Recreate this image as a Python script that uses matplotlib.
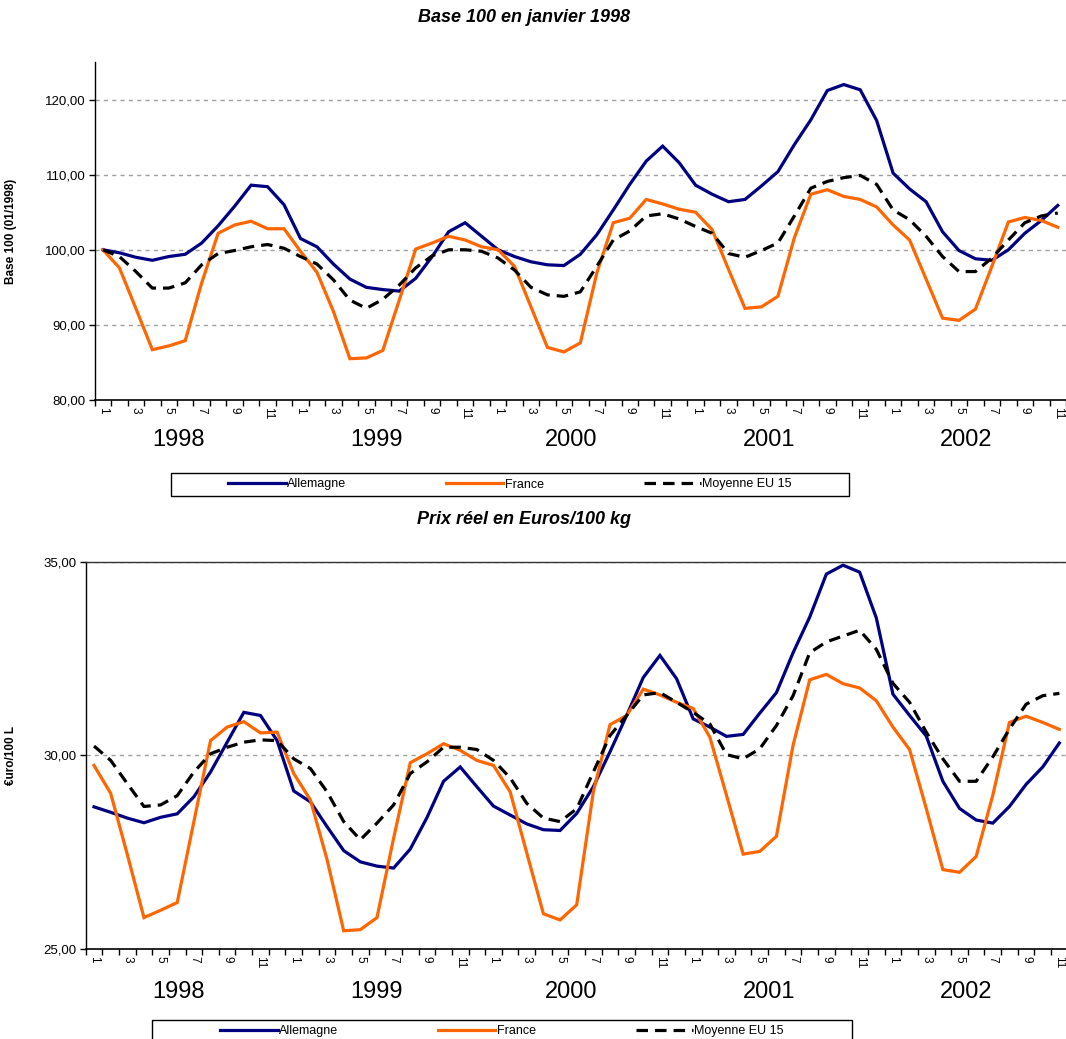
import matplotlib
matplotlib.use("Agg")
import matplotlib.pyplot as plt
from matplotlib.patches import Rectangle
import numpy as np

plt.rcParams['font.family'] = ['Liberation Sans', 'DejaVu Sans']

# monthly series, jan 1998 -> nov 2002
months = list(range(1, 13)) * 4 + list(range(1, 12))
years = ['1998', '1999', '2000', '2001', '2002']

# base 100 (01/1998)
all_idx = [100.0, 99.6, 99.0, 98.6, 99.1, 99.4, 100.9, 103.2, 105.8, 108.6, 108.4, 106.0,
           101.5, 100.4, 98.1, 96.1, 95.0, 94.7, 94.5, 96.2, 99.1, 102.4, 103.6, 101.8,
           100.0, 99.1, 98.4, 98.0, 97.9, 99.4, 102.0, 105.3, 108.7, 111.8, 113.8, 111.6,
           108.6, 107.4, 106.4, 106.7, 108.5, 110.4, 114.0, 117.3, 121.2, 122.0, 121.3, 117.2,
           110.2, 108.1, 106.4, 102.4, 99.9, 98.8, 98.6, 100.0, 102.2, 103.9, 105.9]
fra_idx = [100.0, 97.6, 92.2, 86.7, 87.2, 87.9, 95.6, 102.2, 103.3, 103.8, 102.8, 102.8,
           99.8, 97.0, 91.8, 85.5, 85.6, 86.6, 93.3, 100.1, 100.9, 101.8, 101.3, 100.4,
           100.0, 97.8, 92.4, 87.0, 86.4, 87.6, 96.9, 103.6, 104.2, 106.7, 106.1, 105.4,
           105.0, 102.7, 97.4, 92.2, 92.4, 93.8, 101.6, 107.4, 108.0, 107.1, 106.7, 105.7,
           103.3, 101.3, 96.1, 90.9, 90.6, 92.1, 97.8, 103.7, 104.3, 103.9, 103.0]
eu_idx = [100.0, 99.1, 97.1, 94.9, 94.9, 95.6, 98.0, 99.5, 99.9, 100.4, 100.7, 100.2,
          99.1, 98.1, 96.0, 93.3, 92.2, 93.4, 95.3, 97.6, 99.2, 100.0, 100.0, 99.8,
          98.9, 97.3, 95.0, 94.0, 93.8, 94.4, 97.8, 101.3, 102.5, 104.5, 104.8, 104.1,
          103.1, 102.2, 99.5, 99.0, 99.9, 100.9, 104.5, 108.2, 109.1, 109.6, 109.9, 108.7,
          105.3, 104.0, 101.8, 99.1, 97.1, 97.1, 98.9, 101.3, 103.6, 104.5, 104.9]

# prix reel euro/100 L
all_eur = [28.67, 28.53, 28.38, 28.26, 28.40, 28.49, 28.93, 29.57, 30.34, 31.11, 31.03, 30.38,
           29.08, 28.80, 28.16, 27.54, 27.25, 27.14, 27.09, 27.58, 28.39, 29.33, 29.70, 29.19,
           28.69, 28.46, 28.23, 28.08, 28.06, 28.50, 29.19, 30.09, 31.03, 32.01, 32.58, 31.98,
           30.94, 30.73, 30.49, 30.54, 31.09, 31.62, 32.65, 33.57, 34.68, 34.91, 34.73, 33.55,
           31.58, 31.03, 30.50, 29.33, 28.63, 28.33, 28.25, 28.68, 29.25, 29.70, 30.32]
fra_eur = [29.74, 29.02, 27.44, 25.81, 26.00, 26.20, 28.29, 30.38, 30.73, 30.87, 30.58, 30.60,
           29.53, 28.85, 27.31, 25.47, 25.50, 25.81, 27.86, 29.81, 30.04, 30.30, 30.13, 29.87,
           29.74, 29.06, 27.48, 25.91, 25.75, 26.14, 29.06, 30.79, 31.03, 31.71, 31.56, 31.37,
           31.21, 30.47, 28.97, 27.45, 27.52, 27.91, 30.26, 31.95, 32.09, 31.85, 31.74, 31.41,
           30.73, 30.15, 28.63, 27.05, 26.98, 27.39, 28.97, 30.85, 31.01, 30.85, 30.67]
eu_eur = [30.24, 29.87, 29.27, 28.68, 28.72, 28.96, 29.57, 30.04, 30.21, 30.34, 30.40, 30.38,
          29.91, 29.66, 29.06, 28.29, 27.82, 28.25, 28.72, 29.53, 29.83, 30.21, 30.21, 30.15,
          29.87, 29.42, 28.76, 28.38, 28.29, 28.62, 29.57, 30.51, 31.03, 31.56, 31.62, 31.37,
          31.11, 30.81, 30.02, 29.91, 30.17, 30.77, 31.54, 32.65, 32.93, 33.08, 33.23, 32.74,
          31.86, 31.37, 30.60, 29.91, 29.33, 29.33, 29.96, 30.68, 31.32, 31.54, 31.60]

W, H = 1066, 1039
fig = plt.figure(figsize=(W / 100, H / 100), dpi=100)

def fx(px):
    return px / W

def fy(py):
    return 1 - py / H

blue = '#000080'
orange = '#FF6600'


def panel(rect, a, f, e, ylim, yticks, ylabel, title, title_y, year_y, leg_box):
    ax = fig.add_axes(rect)
    x = np.arange(len(months))
    la, = ax.plot(x, a, color=blue, lw=2.3, label='Allemagne', solid_joinstyle='miter')
    lf, = ax.plot(x, f, color=orange, lw=2.3, label='France', solid_joinstyle='miter')
    le, = ax.plot(x, e, color='black', lw=2.3, dashes=(3.6, 2.2), label='Moyenne EU 15')
    ax.set_xlim(-0.5, len(months) - 0.5)
    ax.set_ylim(*ylim)
    ax.set_yticks(yticks)
    ax.set_yticklabels([('%.2f' % v).replace('.', ',') for v in yticks], fontsize=9.5)
    for v in yticks:
        if v > ylim[0]:
            ax.axhline(v, color='#A0A0A0', lw=1, dashes=(3, 3), zorder=0)
    ax.set_xticks(np.arange(-0.5, len(months) + 0.5, 1))
    ax.set_xticklabels([])
    ax.set_xticks(x, minor=True)
    ax.set_xticklabels([str(m) if m % 2 == 1 else '' for m in months], minor=True,
                       rotation=270, fontsize=8.5)
    ax.tick_params(axis='x', which='major', direction='out', length=4, width=1)
    ax.tick_params(axis='x', which='minor', length=0, pad=5)
    ax.tick_params(axis='y', direction='out', length=4.5, width=1, pad=2)
    ax.spines['right'].set_visible(False)
    ax.spines['left'].set_linewidth(1)
    ax.spines['bottom'].set_linewidth(1.2)
    ax.set_ylabel(ylabel, fontsize=8.5, fontweight='bold')
    ax.yaxis.set_label_coords((fx(17) - rect[0]) / rect[2], 0.5)

    fig.text(fx(524), fy(title_y), title, ha='center', va='center',
             fontsize=13, fontweight='bold', fontstyle='italic')

    year_px = [178, 377, 571, 769, 966]
    for yr, px in zip(years, year_px):
        fig.text(fx(px), fy(year_y), yr, ha='center', va='center', fontsize=17)

    x0, y0, x1, y1 = leg_box
    fig.patches.append(Rectangle((fx(x0), fy(y1)), fx(x1 - x0), (y1 - y0) / H,
                                 transform=fig.transFigure, fill=False,
                                 edgecolor='black', lw=1))
    fig.legend(handles=[la, lf, le], loc='center',
               bbox_to_anchor=(fx((x0 + x1) / 2), fy((y0 + y1) / 2)),
               ncol=3, frameon=False, fontsize=9, handlelength=4.6,
               handletextpad=0.1, columnspacing=8.0, borderaxespad=0, borderpad=0)
    return ax


top = panel([fx(94.7), fy(400), fx(1066 - 94.7), 338 / H], all_idx, fra_idx, eu_idx,
            (80, 125), [80, 90, 100, 110, 120], 'Base 100 (01/1998)',
            'Base 100 en janvier 1998', 18, 440, (171, 473, 849, 496))
top.spines['top'].set_visible(False)

bot = panel([fx(85.7), fy(949), fx(982), 387.3 / H], all_eur, fra_eur, eu_eur,
            (25, 35), [25, 30, 35], '€uro/100 L',
            'Prix réel en Euros/100 kg', 520, 992, (152, 1020, 852, 1042))
bot.spines['top'].set_linewidth(1)
bot.spines['top'].set_color('#333333')

fig.savefig('out.png', dpi=100)
